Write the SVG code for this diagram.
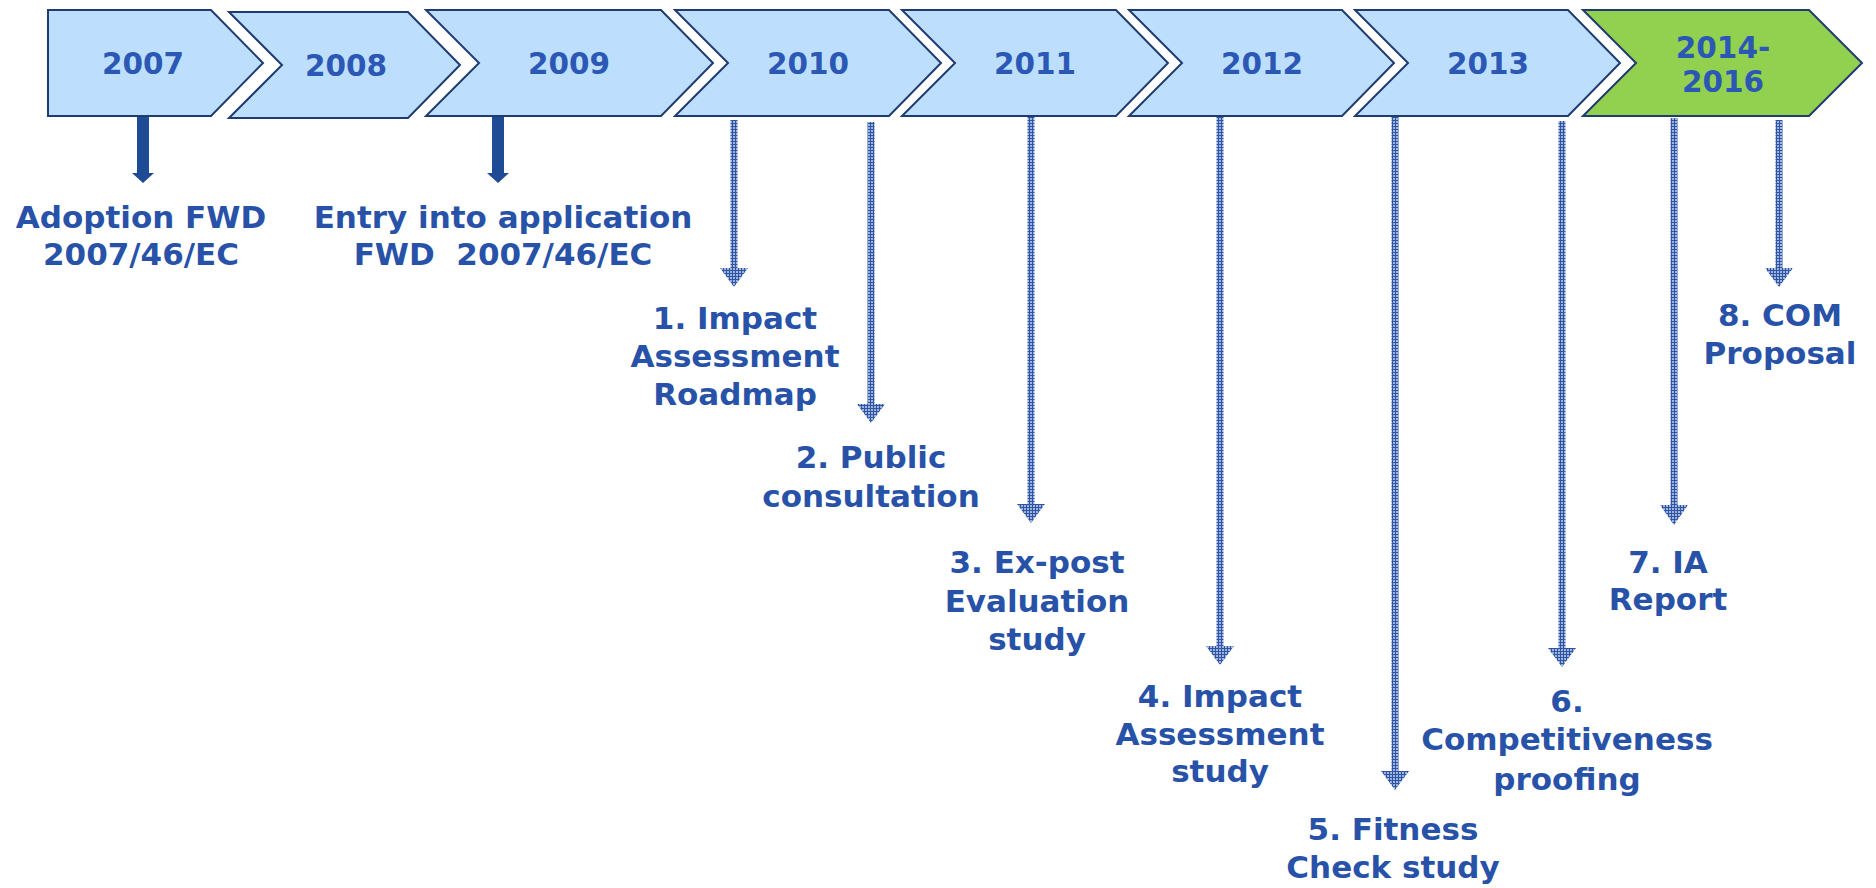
<svg xmlns="http://www.w3.org/2000/svg" width="1876" height="888" viewBox="0 0 1876 888">
<style>
.chev{fill:#BDDFFD;stroke:#1F3B70;stroke-width:2;stroke-linejoin:miter}
.green{fill:#92D050}
.yr{font-family:"DejaVu Sans","Liberation Sans",sans-serif;font-weight:bold;font-size:29.5px;fill:#2C58B5;text-anchor:middle}
.lbl{font-family:"DejaVu Sans","Liberation Sans",sans-serif;font-weight:bold;font-size:31px;fill:#2752A8;text-anchor:middle}
.solid{fill:#1F4A94}
.hatch{fill:url(#grid)}
</style>
<defs>
<pattern id="grid" width="3" height="3" patternUnits="userSpaceOnUse">
<rect width="3" height="3" fill="#9FB4DE"/>
<rect width="3" height="1" fill="#2E54A2"/>
<rect width="1" height="3" fill="#2E54A2"/>
</pattern>
</defs>
<rect width="1876" height="888" fill="#FFFFFF"/>
<g id="y2007"><polygon class="chev" points="48,10 211,10 263,63 211,116 48,116"/><text class="yr" x="143" y="74">2007</text></g>
<g id="y2008"><polygon class="chev" points="229,12 408,12 460,65 408,118 229,118 282,65"/><text class="yr" x="346" y="76">2008</text></g>
<g id="y2009"><polygon class="chev" points="426,10 661,10 713,63 661,116 426,116 479,63"/><text class="yr" x="569" y="74">2009</text></g>
<g id="y2010"><polygon class="chev" points="675,10 889,10 941,63 889,116 675,116 728,63"/><text class="yr" x="808" y="74">2010</text></g>
<g id="y2011"><polygon class="chev" points="902,10 1116,10 1168,63 1116,116 902,116 955,63"/><text class="yr" x="1035" y="74">2011</text></g>
<g id="y2012"><polygon class="chev" points="1129,10 1342,10 1394,63 1342,116 1129,116 1182,63"/><text class="yr" x="1262" y="74">2012</text></g>
<g id="y2013"><polygon class="chev" points="1355,10 1568,10 1620,63 1568,116 1355,116 1408,63"/><text class="yr" x="1488" y="74">2013</text></g>
<g id="y2014"><polygon class="chev green" points="1583,10 1809,10 1862,63 1809,116 1583,116 1636,63"/><text class="yr" x="1723" y="58">2014-</text><text class="yr" x="1723" y="92">2016</text></g>

<g id="connectors">
<path class="solid" d="M137,117 H149 V173 H154 L143,183 L132,173 H137 Z"/>
<path class="solid" d="M492,117 H504 V173 H509 L498,183 L487,173 H492 Z"/>
<path class="hatch" d="M730.5,120 H737.5 V268 H748 L734,287 L720,268 H730.5 Z"/>
<path class="hatch" d="M867.5,122 H874.5 V404 H885 L871,423 L857,404 H867.5 Z"/>
<path class="hatch" d="M1027.5,117 H1034.5 V504 H1045 L1031,523 L1017,504 H1027.5 Z"/>
<path class="hatch" d="M1216.5,117 H1223.5 V646 H1234 L1220,665 L1206,646 H1216.5 Z"/>
<path class="hatch" d="M1391.5,117 H1398.5 V771 H1409 L1395,790 L1381,771 H1391.5 Z"/>
<path class="hatch" d="M1558.5,121 H1565.5 V648 H1576 L1562,667 L1548,648 H1558.5 Z"/>
<path class="hatch" d="M1670.5,118 H1677.5 V505 H1688 L1674,525 L1660,505 H1670.5 Z"/>
<path class="hatch" d="M1775.5,120 H1782.5 V268 H1793 L1779,287 L1765,268 H1775.5 Z"/>
</g>

<g id="adoption"><text class="lbl" x="141" y="228">Adoption FWD</text><text class="lbl" x="141" y="265">2007/46/EC</text></g>
<g id="entry"><text class="lbl" x="503" y="228">Entry into application</text><text class="lbl" x="503" y="265" xml:space="preserve">FWD  2007/46/EC</text></g>
<g id="item1"><text class="lbl" x="735" y="329">1. Impact</text><text class="lbl" x="735" y="367">Assessment</text><text class="lbl" x="735" y="405">Roadmap</text></g>
<g id="item2"><text class="lbl" x="871" y="468">2. Public</text><text class="lbl" x="871" y="507">consultation</text></g>
<g id="item3"><text class="lbl" x="1037" y="573">3. Ex-post</text><text class="lbl" x="1037" y="612">Evaluation</text><text class="lbl" x="1037" y="650">study</text></g>
<g id="item4"><text class="lbl" x="1220" y="707">4. Impact</text><text class="lbl" x="1220" y="745">Assessment</text><text class="lbl" x="1220" y="782">study</text></g>
<g id="item5"><text class="lbl" x="1393" y="840">5. Fitness</text><text class="lbl" x="1393" y="878">Check study</text></g>
<g id="item6"><text class="lbl" x="1567" y="712">6.</text><text class="lbl" x="1567" y="750">Competitiveness</text><text class="lbl" x="1567" y="790">proofing</text></g>
<g id="item7"><text class="lbl" x="1668" y="573">7. IA</text><text class="lbl" x="1668" y="610">Report</text></g>
<g id="item8"><text class="lbl" x="1780" y="326">8. COM</text><text class="lbl" x="1780" y="364">Proposal</text></g>
</svg>
